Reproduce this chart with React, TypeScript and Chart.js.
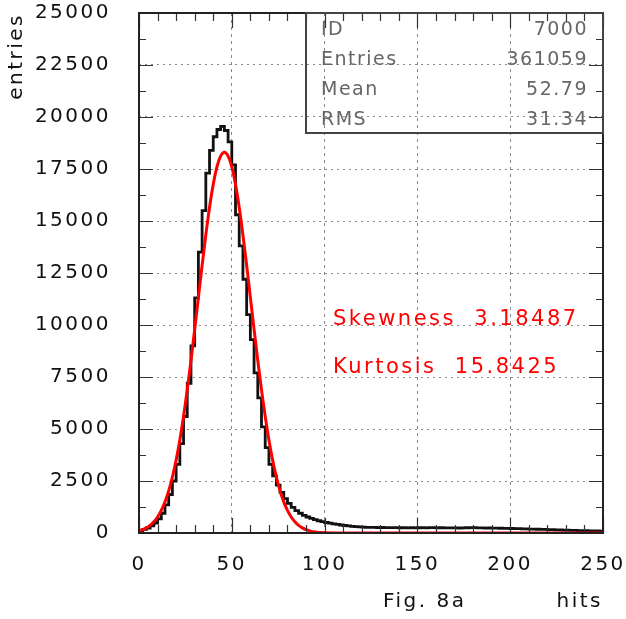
import React, { useEffect, useRef } from "react";
import { Chart, registerables } from "chart.js";

Chart.register(...registerables);

// ---------- data ----------
const BIN_START = 0;
const BIN_WIDTH = 2;
const X_MIN = 0;
const X_MAX = 250;
const X_STEP = 50;
const X_MINOR = 10;
const Y_MIN = 0;
const Y_MAX = 25000;
const Y_STEP = 2500;
const Y_MINOR = 1250;

// histogram contents, bins of width 2 from 0 to 250
const HIST_COUNTS = [
  120, 170, 240, 340, 480, 680, 950, 1350, 1850, 2500,
  3300, 4300, 5600, 7200, 9000, 11300, 13500, 15500, 17300, 18400,
  19050, 19400, 19550, 19350, 18800, 17700, 15300, 13800, 12200, 10500,
  9300, 7700, 6500, 5100, 4100, 3300, 2750, 2300, 1950, 1650,
  1420, 1230, 1080, 950, 850, 770, 700, 640, 590, 545,
  505, 470, 440, 410, 385, 360, 340, 320, 305, 290,
  280,
  275, 270, 268, 262, 265, 258, 262, 255, 258, 252,
  256, 250, 254, 248, 252, 258, 250, 262, 255, 248,
  252, 245, 250, 244, 248, 240, 246, 252, 258, 262,
  250, 242, 236, 240, 232, 236, 228, 224, 220, 216,
  212, 206, 200, 196, 190, 184, 180, 174, 170, 164,
  158, 152, 146, 140, 134, 128, 122, 118, 112, 108,
  104, 100, 96, 92,
];

// fitted curve (red)
const FIT_X = [
  0, 2, 4, 6, 8, 10, 12, 14, 16, 18,
  20, 22, 24, 26, 28, 30, 32, 34, 36, 38,
  40, 42, 44, 46, 48, 50, 52, 54, 56, 58,
  60, 62, 64, 66, 68, 70, 72, 74, 76, 78,
  80, 82, 84, 86, 88, 90, 92, 94, 96, 98,
  100, 110, 250,
];
const FIT_Y = [
  104, 161, 245, 366, 536, 770, 1085, 1497, 2028, 2692,
  3505, 4476, 5605, 6881, 8290, 9790, 11330, 12870, 14330, 15650,
  16760, 17600, 18120, 18300, 18120, 17600, 16760, 15650, 14330, 12870,
  11330, 9790, 8290, 6881, 5605, 4476, 3505, 2692, 2028, 1497,
  1085, 770, 536, 366, 245, 161, 104, 65, 40, 24,
  14, 0, 0,
];

const STAT_LABELS = ["ID", "Entries", "Mean", "RMS"];
const STAT_VALUES = ["7000", "361059", "52.79", "31.34"];
const FIT_NOTES = ["Skewness  3.18487", "Kurtosis  15.8425"];
const X_TITLE = "hits";
const Y_TITLE = "entries";
const CAPTION = "Fig. 8a";

// ---------- styling ----------
const FONT = "'DejaVu Sans', 'Liberation Sans', Arial, sans-serif";
const LETTER_SPACING = "2.5px";

const spacingPlugin = {
  id: "letterSpacing",
  beforeDraw(chart: any) {
    chart.ctx.letterSpacing = LETTER_SPACING;
  },
  afterDraw(chart: any) {
    chart.ctx.letterSpacing = "0px";
  },
};

const overlayPlugin = {
  id: "rootOverlay",
  afterDatasetsDraw(chart: any) {
    const ctx = chart.ctx as CanvasRenderingContext2D;
    const { left, right, top, bottom } = chart.chartArea;
    const xs = chart.scales.x;
    const ys = chart.scales.y;
    ctx.save();
    ctx.letterSpacing = "0px";
    // inner ticks on all four sides
    ctx.strokeStyle = "#333";
    ctx.lineWidth = 1.2;
    ctx.beginPath();
    for (let v = X_MIN; v <= X_MAX; v += X_MINOR) {
      const px = Math.round(xs.getPixelForValue(v)) + 0.5;
      const len = v % X_STEP === 0 ? 15 : 8;
      ctx.moveTo(px, bottom);
      ctx.lineTo(px, bottom - len);
      ctx.moveTo(px, top);
      ctx.lineTo(px, top + len);
    }
    for (let v = Y_MIN; v <= Y_MAX; v += Y_MINOR) {
      const py = Math.round(ys.getPixelForValue(v)) + 0.5;
      const len = v % Y_STEP === 0 ? 14 : 7;
      ctx.moveTo(left, py);
      ctx.lineTo(left + len, py);
      ctx.moveTo(right, py);
      ctx.lineTo(right - len, py);
    }
    ctx.stroke();
    // frame
    ctx.strokeStyle = "#222";
    ctx.lineWidth = 2;
    ctx.strokeRect(left, top, right - left, bottom - top);

    // stats box
    const boxW = 297;
    const boxH = 120;
    const bx = right - boxW;
    const by = top;
    ctx.strokeStyle = "#444";
    ctx.lineWidth = 2;
    ctx.strokeRect(bx, by, boxW, boxH);
    ctx.font = `19px ${FONT}`;
    ctx.fillStyle = "#666";
    ctx.textBaseline = "middle";
    ctx.letterSpacing = "1.5px";
    const rowH = boxH / STAT_LABELS.length;
    STAT_LABELS.forEach((lab, i) => {
      const cy = by + rowH * (i + 0.5) + 2;
      ctx.textAlign = "left";
      ctx.fillText(lab, bx + 15, cy);
      ctx.textAlign = "right";
      ctx.fillText(STAT_VALUES[i], right - 15, cy);
    });

    // fit notes
    ctx.font = `21px ${FONT}`;
    ctx.fillStyle = "#ff0000";
    ctx.textAlign = "left";
    ctx.letterSpacing = "2.5px";
    FIT_NOTES.forEach((t, i) => {
      ctx.fillText(t, 333, 320 + i * 48);
    });

    // caption
    ctx.font = `20px ${FONT}`;
    ctx.fillStyle = "#111";
    ctx.fillText(CAPTION, 383, 602);
    ctx.restore();
  },
};

function gridColor(ctx: any) {
  const v = ctx.tick ? ctx.tick.value : null;
  const s = ctx.scale;
  if (v === null || v === s.min || v === s.max) return "rgba(0,0,0,0)";
  return "#8a8a8a";
}

export default function App() {
  const canvasRef = useRef<HTMLCanvasElement | null>(null);

  useEffect(() => {
    const canvas = canvasRef.current;
    if (!canvas) return;
    const histData = HIST_COUNTS.map((y, i) => ({ x: BIN_START + i * BIN_WIDTH, y }));
    histData.push({
      x: BIN_START + HIST_COUNTS.length * BIN_WIDTH,
      y: HIST_COUNTS[HIST_COUNTS.length - 1],
    });
    const fitData = FIT_X.map((x, i) => ({ x, y: FIT_Y[i] }));

    const zeroPad = (scale: any) => {
      scale.paddingLeft = 0;
      scale.paddingRight = 0;
      scale.paddingTop = 0;
      scale.paddingBottom = 0;
    };

    const chart = new Chart(canvas, {
      type: "line",
      data: {
        datasets: [
          {
            label: "fit",
            data: fitData,
            borderColor: "#ff0000",
            borderWidth: 3,
            pointRadius: 0,
            cubicInterpolationMode: "monotone",
            fill: false,
          },
          {
            label: "histogram",
            data: histData,
            borderColor: "#111",
            borderWidth: 2.8,
            pointRadius: 0,
            stepped: "before",
            fill: false,
          },
        ],
      },
      options: {
        responsive: false,
        maintainAspectRatio: false,
        devicePixelRatio: 1,
        animation: false,
        layout: { padding: { left: 0, right: 23, top: 13, bottom: 0 } },
        plugins: {
          legend: { display: false },
          tooltip: { enabled: false },
        },
        scales: {
          x: {
            type: "linear",
            min: X_MIN,
            max: X_MAX,
            afterFit: (s: any) => {
              s.height = 86;
              zeroPad(s);
            },
            ticks: {
              stepSize: X_STEP,
              autoSkip: false,
              maxRotation: 0,
              padding: 20,
              color: "#111",
              font: { family: FONT, size: 20 },
              callback: (v: any) => String(v),
            },
            grid: {
              color: gridColor,
              lineWidth: 1,
              drawTicks: false,
            },
            border: { display: false, dash: [3, 4] },
            title: {
              display: true,
              text: X_TITLE,
              align: "end",
              color: "#111",
              font: { family: FONT, size: 20 },
              padding: { top: 0, bottom: 5 },
            },
          },
          y: {
            type: "linear",
            min: Y_MIN,
            max: Y_MAX,
            afterFit: (s: any) => {
              s.width = 139;
              zeroPad(s);
            },
            ticks: {
              stepSize: Y_STEP,
              autoSkip: false,
              padding: 28,
              color: "#111",
              font: { family: FONT, size: 20 },
              callback: (v: any) => String(v),
            },
            grid: {
              color: gridColor,
              lineWidth: 1,
              drawTicks: false,
            },
            border: { display: false, dash: [2, 4] },
            title: {
              display: true,
              text: Y_TITLE,
              align: "end",
              color: "#111",
              font: { family: FONT, size: 20 },
              padding: { top: 5, bottom: 0 },
            },
          },
        },
      },
      plugins: [spacingPlugin, overlayPlugin],
    } as any);

    return () => chart.destroy();
  }, []);

  return (
    <div style={{ position: "fixed", left: 0, top: 0, width: 626, height: 619, background: "#fff" }}>
      <canvas ref={canvasRef} width={626} height={619} style={{ display: "block", width: 626, height: 619 }} />
    </div>
  );
}
